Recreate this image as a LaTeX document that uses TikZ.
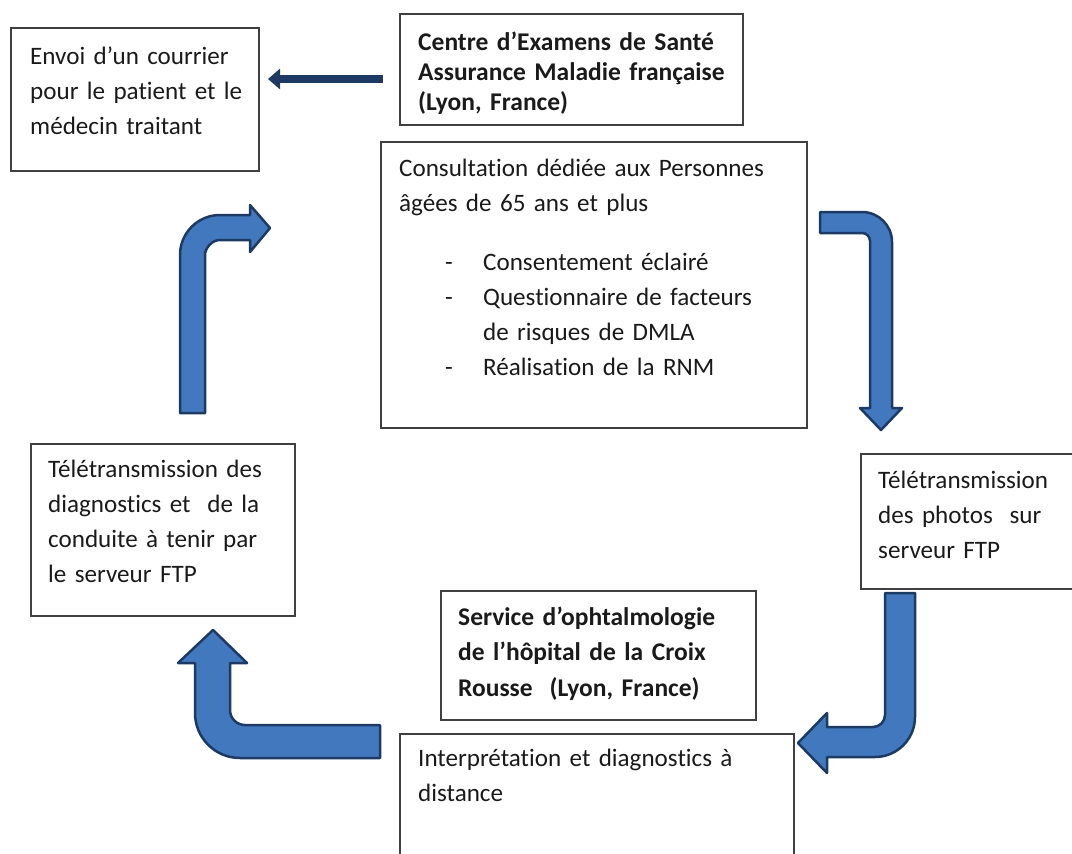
\documentclass[tikz,border=0pt]{standalone}
\usepackage{fontspec}
\setmainfont[Ligatures=NoCommon]{Carlito}
\usetikzlibrary{arrows.meta}
\definecolor{arrowblue}{HTML}{4178BE}
\definecolor{arrowedge}{HTML}{1C3A63}
\definecolor{boxline}{HTML}{404040}
\definecolor{textgrey}{HTML}{1A1A1A}
\begin{document}
\begin{tikzpicture}[
  x=1pt, y=-1pt,
  box/.style={draw=boxline, line width=1.5pt, anchor=north west, inner sep=0pt},
  txt/.style={anchor=base west, inner sep=0pt, text width=420pt, align=left, text=textgrey,
    font=\fontsize{25.1}{35}\selectfont},
  btxt/.style={txt, font=\fontsize{25.5}{35.5}\selectfont\bfseries},
  blockarrow/.style={fill=arrowblue, draw=arrowedge, line width=2.5pt, line join=round},
  link/.style={draw=arrowedge, line width=8pt, -{Triangle[length=12pt,width=20pt]}}
]
  \useasboundingbox (0,0) rectangle (1072,854);

  % Cadres
  \node[box, minimum width=248pt, minimum height=143pt] (envoi) at (10,27) {};
  \node[box, minimum width=343pt, minimum height=111pt] (centre) at (399,13) {};
  \node[box, minimum width=426pt, minimum height=286pt] (consult) at (380,141) {};
  \node[box, minimum width=230pt, minimum height=135pt] (photos) at (860,453) {};
  \node[box, minimum width=264pt, minimum height=172pt] (diag) at (30,443) {};
  \node[box, minimum width=315pt, minimum height=129pt] (service) at (440,590) {};
  \node[box, minimum width=394pt, minimum height=140pt] (interp) at (399,733) {};

  % Textes
  \node[txt] (envoiT) at ([shift={(20,37)}]envoi.north west)
    {Envoi d’un courrier\\pour le patient et le\\médecin traitant};
  \node[btxt, font=\fontsize{25.5}{30}\selectfont\bfseries] (centreT) at ([shift={(19,37)}]centre.north west)
    {Centre d’Examens de Santé\\Assurance Maladie française\\(Lyon, France)};
  \node[txt] (consultT) at ([shift={(19,35)}]consult.north west)
    {Consultation dédiée aux Personnes\\âgées de 65 ans et plus\\[24pt]
     \hspace*{46pt}\makebox[38pt][l]{-}Consentement éclairé\\
     \hspace*{46pt}\makebox[38pt][l]{-}Questionnaire de facteurs\\
     \hspace*{84pt}de risques de DMLA\\
     \hspace*{46pt}\makebox[38pt][l]{-}Réalisation de la RNM};
  \node[txt] (photosT) at ([shift={(18,35)}]photos.north west)
    {Télétransmission\\des photos\ \ sur\\serveur FTP};
  \node[txt] (diagT) at ([shift={(18,34)}]diag.north west)
    {Télétransmission des\\diagnostics et\ \ de la\\conduite à tenir par\\le serveur FTP};
  \node[btxt] (serviceT) at ([shift={(18,35)}]service.north west)
    {Service d’ophtalmologie\\de l’hôpital de la Croix\\Rousse\ \ (Lyon, France)};
  \node[txt] (interpT) at ([shift={(19,33)}]interp.north west)
    {Interprétation et diagnostics à\\distance};

  % Flèche vers le courrier
  \coordinate (linkA) at (383,79);
  \coordinate (linkB) at (268,79);
  \draw[link] (linkA) -- (linkB);

  % Flèches du cycle
  \draw[blockarrow] (820,212) -- (862,212) .. controls (878.6,212) and (892,225.4) .. (892,242)
    -- (892,408) -- (902,408) -- (881,430) -- (860,408) -- (870,408) -- (870,241)
    .. controls (870,236.6) and (866.4,233) .. (862,233) -- (820,233) -- cycle;
  \draw[blockarrow] (885,593) -- (915,593) -- (915,717) .. controls (915,739.1) and (897.1,757) .. (875,757)
    -- (827,757) -- (827,773) -- (798,743) -- (827,713) -- (827,727) -- (873,727)
    .. controls (879.6,727) and (885,721.6) .. (885,715) -- cycle;
  \draw[blockarrow] (380,725) -- (380,758) -- (240,758) .. controls (215.1,758) and (195,737.9) .. (195,713)
    -- (195,663) -- (178,663) -- (213,630) -- (247,663) -- (230,663) -- (230,710)
    .. controls (230,718.3) and (236.7,725) .. (245,725) -- cycle;
  \draw[blockarrow] (180,413) -- (180,255) .. controls (180,232.9) and (197.9,215) .. (220,215)
    -- (250,215) -- (250,205) -- (270,228) -- (250,252) -- (250,240) -- (220,240)
    .. controls (211.7,240) and (205,248.3) .. (205,255) -- (205,413) -- cycle;
\end{tikzpicture}
\end{document}
